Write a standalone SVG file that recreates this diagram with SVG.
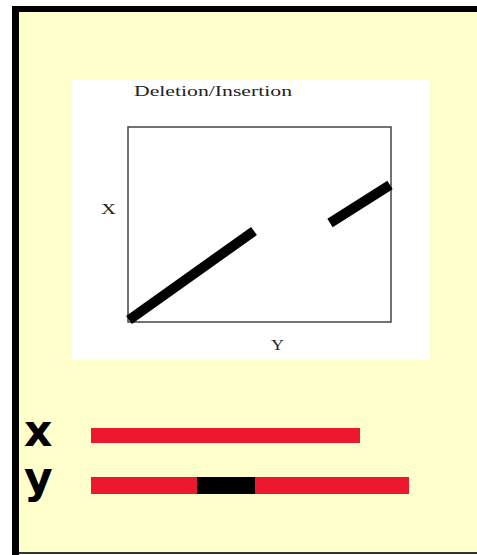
<svg xmlns="http://www.w3.org/2000/svg" width="477" height="555" viewBox="0 0 477 555">
<style>
.serif{font-family:"Liberation Serif","Times New Roman",serif;font-size:15px;fill:#222}
.big{font-family:"DejaVu Sans",sans-serif;font-weight:bold;font-size:44px;fill:#000}
.dot{stroke:#000;stroke-width:10;stroke-linecap:butt;fill:none}
.red{fill:#EC1830}
</style>
<rect x="0" y="0" width="477" height="555" fill="#fff"/>
<rect x="19" y="12" width="458" height="541" fill="#FFFFCC"/>
<rect x="12" y="6" width="465" height="6" fill="#000"/>
<rect x="12" y="6" width="7" height="549" fill="#000"/>
<rect x="19" y="552" width="458" height="2" fill="#333"/>
<g id="plot">
<rect x="72" y="80" width="358" height="280" fill="#fff"/>
<text class="serif" x="134" y="96" textLength="158" lengthAdjust="spacingAndGlyphs">Deletion/Insertion</text>
<rect x="128" y="127" width="263" height="195" fill="none" stroke="#444" stroke-width="1.5"/>
<text class="serif" x="101" y="214" textLength="15" lengthAdjust="spacingAndGlyphs">X</text>
<text class="serif" x="271" y="350" textLength="13" lengthAdjust="spacingAndGlyphs">Y</text>
</g>
<g id="connectors">
<line class="dot" x1="129" y1="320" x2="254" y2="231"/>
<line class="dot" x1="330" y1="223" x2="390" y2="185"/>
</g>
<g id="seqX">
<text class="big" x="24" y="446">x</text>
<rect class="red" x="91" y="428" width="269" height="15"/>
</g>
<g id="seqY">
<text class="big" x="24" y="493">y</text>
<rect class="red" x="91" y="477" width="318" height="17"/>
<rect x="197" y="477" width="58" height="17" fill="#000"/>
</g>
</svg>
